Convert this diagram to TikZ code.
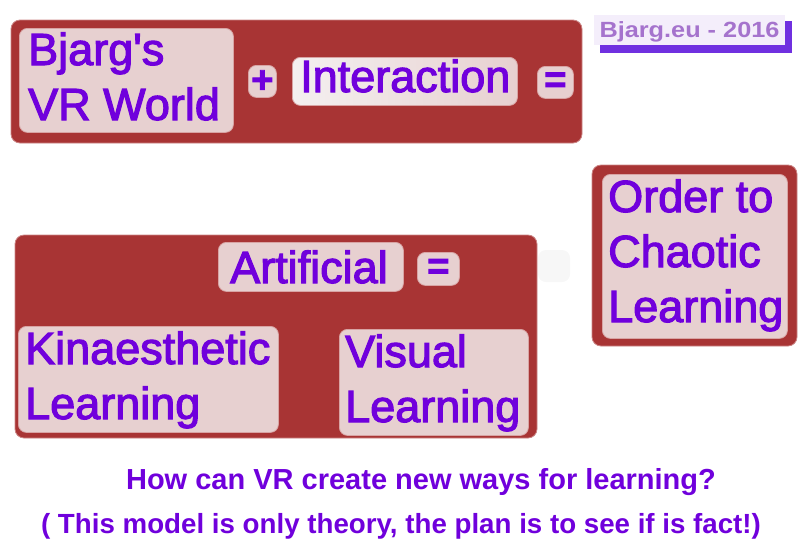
\documentclass[tikz,border=0pt]{standalone}
\usepackage{fontspec}
\setmainfont{Liberation Sans}
\newfontfamily\boxfont{Liberation Sans}[FakeBold=2.5]
\usetikzlibrary{positioning}
\definecolor{boxred}{RGB}{168,52,52}
\definecolor{boxpink}{RGB}{231,208,208}
\definecolor{boxlight}{RGB}{244,240,240}
\definecolor{textpurple}{RGB}{112,0,220}
\definecolor{tagpurple}{RGB}{112,48,224}
\definecolor{taglilac}{RGB}{244,238,251}
\definecolor{tagtext}{RGB}{165,115,205}

\begin{document}
\begin{tikzpicture}[x=1pt,y=-1pt,
  outer/.style={fill=boxred, draw=boxred!60!white, rounded corners=9pt, line width=0.8pt},
  inner/.style={fill=boxpink, draw=boxred!45!white, rounded corners=8pt, line width=0.8pt, inner sep=0pt, anchor=north west},
  word/.style={text=textpurple, font=\boxfont\fontsize{45}{55}\selectfont, align=left, inner sep=0pt, anchor=base west},
  sign/.style={text=textpurple, font=\boxfont\bfseries\fontsize{38}{38}\selectfont},
  question/.style={text=textpurple, font=\bfseries\fontsize{28.5}{34}\selectfont, inner sep=0pt, anchor=base}
]
\useasboundingbox (0,0) rectangle (800,550);

% Top group: world + interaction =
\draw[outer] (11,20) rectangle (582,143);
\node[inner, minimum width=214pt, minimum height=104pt] (bjargbox) at (19,28) {};
\node[inner, minimum width=28pt, minimum height=32pt, sign] (plus) at (248,65) {+};
\node[inner, minimum width=225pt, minimum height=48pt, left color=boxlight, right color=boxpink] (interactionbox) at (292,57) {};
\node[inner, minimum width=36pt, minimum height=32pt, sign] (equalstop) at (537,66) {=};
\node[word] (bjargtxt) at (28,120) {Bjarg\textquotesingle s\\VR World};
\node[word] (interactiontxt) at (300,92) {Interaction};

% Tag in the corner
\fill[tagpurple] (600,21) rectangle (792,53);
\node[fill=taglilac, minimum width=191pt, minimum height=30pt, inner sep=0pt, anchor=north west] (tag) at (594,15) {};
\node[text=tagtext, font=\bfseries\fontsize{22}{22}\selectfont, inner sep=0pt, anchor=base] (tagtxt) at (689.5,37) {\scalebox{1.15}[1]{Bjarg.eu - 2016}};

% Result box on the right
\draw[outer] (592,165) rectangle (797,346);
\node[inner, minimum width=185pt, minimum height=164pt] (orderbox) at (602,174) {};
\node[word] (ordertxt) at (608,322) {Order to\\Chaotic\\Learning};

% faint patch
\fill[black!3, rounded corners=8pt] (538,250) rectangle (570,282);

% Lower group: artificial = kinaesthetic / visual
\draw[outer] (15,235) rectangle (537,438);
\node[inner, minimum width=185pt, minimum height=49pt] (artificialbox) at (218,242) {};
\node[inner, minimum width=42pt, minimum height=33pt, sign] (equalslow) at (417,252) {=};
\node[word] (artificialtxt) at (230,283) {Artificial};
\node[inner, minimum width=260pt, minimum height=106pt] (kinbox) at (18,326) {};
\node[word] (kintxt) at (25,419) {Kinaesthetic\\Learning};
\node[inner, minimum width=189pt, minimum height=106pt] (visualbox) at (339,329) {};
\node[word] (visualtxt) at (345,422) {Visual\\Learning};

% Question underneath
\node[question, font=\bfseries\fontsize{29}{34}\selectfont] (asktxt) at (421,489) {How can VR create new ways for learning?};
\node[question, font=\bfseries\fontsize{27.7}{34}\selectfont] (notetxt) at (401,533) {( This model is only theory, the plan is to see if is fact!)};

\end{tikzpicture}
\end{document}
